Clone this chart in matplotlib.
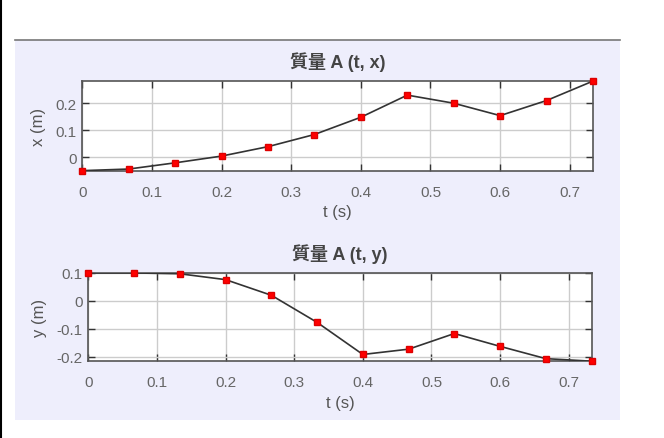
import matplotlib.pyplot as plt
from matplotlib.patches import Rectangle
from matplotlib.lines import Line2D
from matplotlib.ticker import FormatStrFormatter

plt.rcParams['font.family'] = ['Liberation Sans', 'Noto Sans CJK TC', 'DejaVu Sans']
plt.rcParams['axes.unicode_minus'] = False

# time steps (s)
t = [0, 0.0667, 0.1333, 0.2, 0.2667, 0.3333, 0.4, 0.4667, 0.5333, 0.6, 0.6667, 0.7333]
# position x (m)
x_pos = [-0.050, -0.044, -0.021, 0.004, 0.039, 0.084, 0.148, 0.230, 0.200, 0.154, 0.210, 0.282]
# position y (m)
y_pos = [0.100, 0.100, 0.097, 0.076, 0.020, -0.077, -0.192, -0.173, -0.117, -0.163, -0.207, -0.216]

titles = ['質量 A (t, x)', '質量 A (t, y)']
ylabels = ['x (m)', 'y (m)']
xticks = [0, 0.1, 0.2, 0.3, 0.4, 0.5, 0.6, 0.7]
yticks = [[0, 0.1, 0.2], [-0.2, -0.1, 0, 0.1]]

fig = plt.figure(figsize=(6.64, 4.39), dpi=100)
fig.patch.set_facecolor('white')

# lavender panel behind the plots
fig.patches.append(Rectangle((15 / 664, 18 / 439), 605 / 664, 380 / 439,
                             transform=fig.transFigure, facecolor='#eeeefc',
                             edgecolor='none', zorder=-10))
fig.lines.append(Line2D([15 / 664, 620 / 664], [398 / 439, 398 / 439],
                        transform=fig.transFigure, color='#777777', lw=1.2, zorder=-5))
fig.lines.append(Line2D([1 / 664, 1 / 664], [0, 1], transform=fig.transFigure,
                        color='black', lw=1.5, zorder=-5))

positions = [[0.124, 0.609, 0.769, 0.204], [0.133, 0.175, 0.758, 0.201]]
series = [x_pos, y_pos]

for i in range(2):
    ax = fig.add_axes(positions[i])
    ax.set_facecolor('white')
    ax.plot(t, series[i], color='#333333', lw=1.2, zorder=3)
    ax.plot(t, series[i], 's', color='#ff0000', ms=5, mec='#dd0000', zorder=4, clip_on=False)
    ax.set_xlim(min(t), max(t))
    ax.set_ylim(min(series[i]), max(series[i]))
    ax.set_xticks(xticks)
    ax.set_yticks(yticks[i])
    ax.xaxis.set_major_formatter(FormatStrFormatter('%g'))
    ax.yaxis.set_major_formatter(FormatStrFormatter('%g'))
    ax.grid(True, color='#cccccc', lw=1)
    ax.set_axisbelow(True)
    ax.tick_params(direction='in', top=True, right=True, length=5, width=1,
                   color='#333333', labelcolor='#666666', labelsize=11)
    ax.tick_params(axis='x', pad=10)
    ax.tick_params(axis='y', pad=4)
    for s in ax.spines.values():
        s.set_color('#555555')
        s.set_linewidth(1.2)
    ax.set_title(titles[i], fontsize=13, fontweight='bold', color='#444444', pad=10)
    ax.set_xlabel('t (s)', fontsize=12, color='#555555', labelpad=4)
    ax.set_ylabel(ylabels[i], fontsize=12, color='#555555', labelpad=7)

fig.savefig('out.png', dpi=100)
